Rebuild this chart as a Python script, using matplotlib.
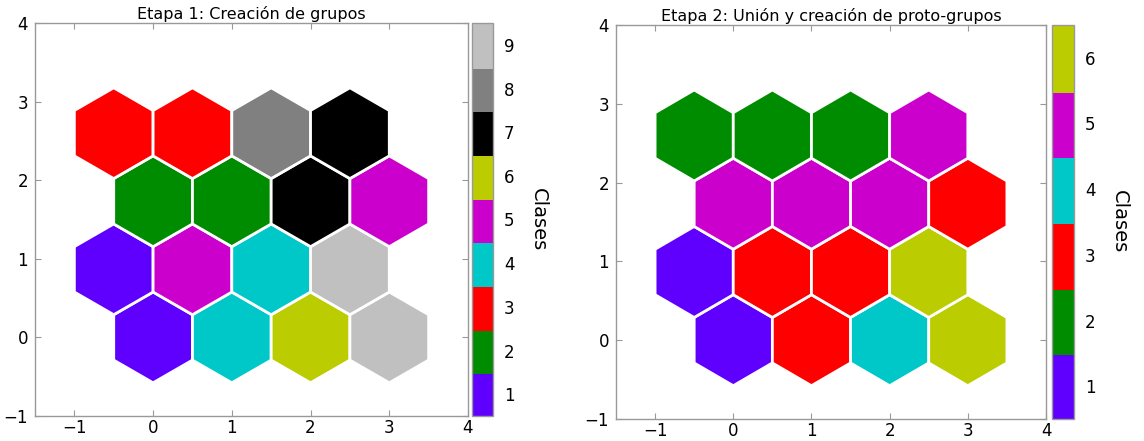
import numpy as np
import matplotlib
matplotlib.use("Agg")
import matplotlib.pyplot as plt
from matplotlib.patches import RegularPolygon
from matplotlib.collections import PatchCollection
from matplotlib.colors import ListedColormap, BoundaryNorm

# SOM map: 4 rows x 4 columns, hexagonal topology (rows listed bottom to top)
n_rows, n_cols = 4, 4
stage1_classes = [
    [1, 4, 6, 9],
    [1, 5, 4, 9],
    [2, 2, 7, 5],
    [3, 3, 8, 7],
]
stage2_classes = [
    [1, 3, 4, 6],
    [1, 3, 3, 6],
    [5, 5, 5, 3],
    [2, 2, 2, 5],
]
class_colors = ["#5f00ff", "#008c00", "#ff0000", "#00c8c8", "#cc00cc",
                "#bbcc00", "#000000", "#808080", "#c0c0c0"]
titles = ["Etapa 1: Creación de grupos", "Etapa 2: Unión y creación de proto-grupos"]
n_classes = [9, 6]

plt.rcParams["font.family"] = "DejaVu Sans"

fig = plt.figure(figsize=(11.44, 4.41), dpi=100)
W, H = 1144, 441


def px_axes(l, r, t, b):
    return fig.add_axes([l / W, 1 - b / H, (r - l) / W, (b - t) / H])


layout = [
    ((35, 468, 23, 416), (472, 493, 23, 416)),
    ((616, 1046, 25, 419), (1052, 1074, 25, 419)),
]

radius = 1 / np.sqrt(3)
dy = np.sqrt(3) / 2

for k, classes in enumerate([stage1_classes, stage2_classes]):
    (al, ar, at, ab), (cl, cr, ct, cb) = layout[k]
    ax = px_axes(al, ar, at, ab)
    cax = px_axes(cl, cr, ct, cb)

    nc = n_classes[k]
    cmap = ListedColormap(class_colors[:nc])
    norm = BoundaryNorm(np.arange(0.5, nc + 1.5, 1.0), nc)

    patches, values = [], []
    for i in range(n_rows):
        for j in range(n_cols):
            x = j - 0.5 * (i % 2)
            y = i * dy
            patches.append(RegularPolygon((x, y), numVertices=6, radius=radius,
                                          orientation=0))
            values.append(classes[i][j])
    pc = PatchCollection(patches, cmap=cmap, norm=norm, edgecolor="white",
                         linewidth=2)
    pc.set_array(np.array(values))
    ax.add_collection(pc)

    ax.set_xlim(-1.5, 4)
    ax.set_ylim(-1, 4)
    ax.set_xticks(range(-1, 5))
    ax.set_yticks(range(-1, 5))
    ax.set_xticklabels(["\u22121", "0", "1", "2", "3", "4"])
    ax.set_yticklabels(["\u22121", "0", "1", "2", "3", "4"])
    ax.tick_params(direction="in", top=True, right=True, length=4, width=0.8,
                   color="#999999", labelsize=12)
    ax.tick_params(axis="x", pad=2)
    ax.tick_params(axis="y", pad=5)
    for s in ax.spines.values():
        s.set_color("#999999")
        s.set_linewidth(1.0)
    ax.set_title(titles[k], fontsize=11.5, pad=3)

    cb = fig.colorbar(pc, cax=cax, ticks=range(1, nc + 1))
    cb.solids.set_edgecolor("face")
    cb.ax.minorticks_off()
    cb.ax.tick_params(which="both", length=0, labelsize=12, pad=8)
    cb.outline.set_edgecolor("#999999")
    cb.outline.set_linewidth(1.0)
    cb.set_label("Clases", rotation=270, fontsize=14, labelpad=24)

fig.savefig("out.png", dpi=100)
